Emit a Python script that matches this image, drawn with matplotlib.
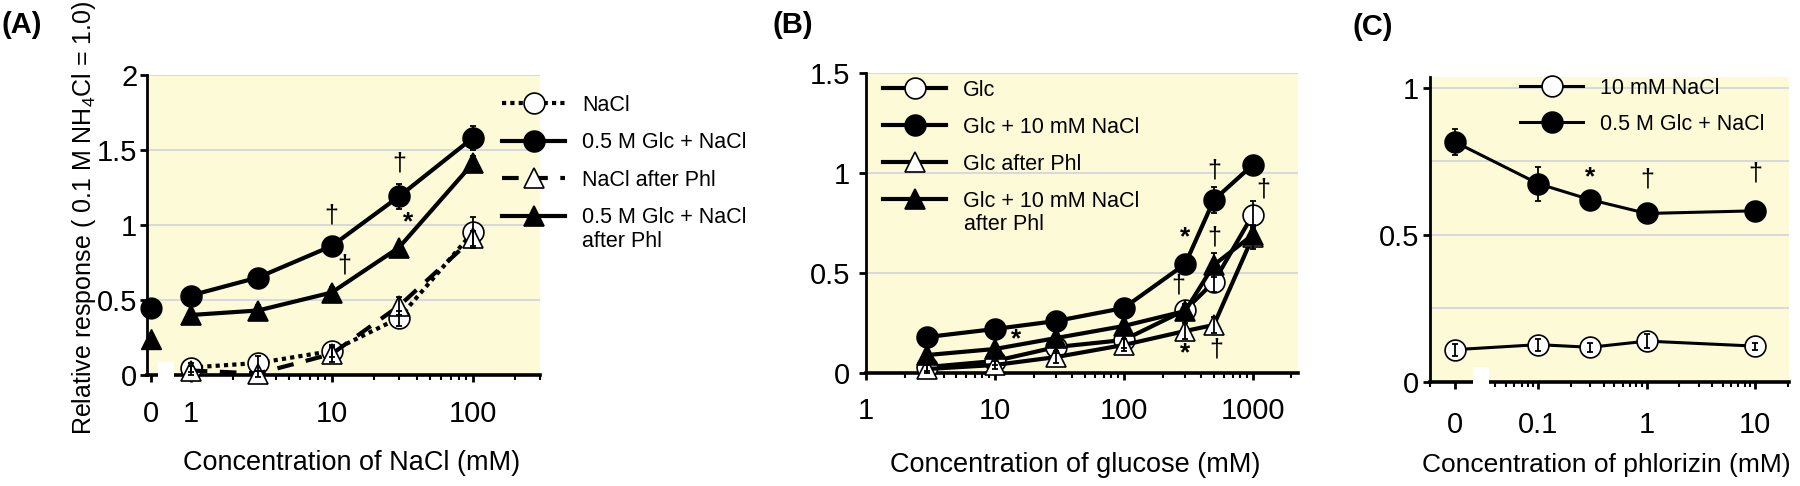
import numpy as np
import matplotlib.pyplot as plt
import matplotlib.transforms as mtransforms
from matplotlib.patches import Rectangle

plt.rcParams['font.family'] = ['Liberation Sans', 'DejaVu Sans']
plt.rcParams['mathtext.fontset'] = 'custom'
plt.rcParams['mathtext.rm'] = 'Liberation Sans'

BG = '#FDFBD7'
GRID = '#D9D9DD'
W, H = 1800, 486
LEG_FS = 15.5
MS = 15

# ---- (A) NaCl dose response ----
conc_a = [1, 3, 10, 30, 100]
nacl_a = [0.05, 0.08, 0.16, 0.38, 0.95]
nacl_a_err = [0.03, 0.05, 0.04, 0.05, 0.10]
nacl_phl_a = [0.03, 0.01, 0.14, 0.46, 0.91]
nacl_phl_a_err = [0.03, 0.02, 0.05, 0.06, 0.05]
glc_na_a = [0.53, 0.65, 0.86, 1.19, 1.58]
glc_na_a_err = [0.03, 0.05, 0.03, 0.08, 0.08]
glc_na_phl_a = [0.40, 0.43, 0.55, 0.85, 1.41]
glc_na_phl_a_err = [0.02, 0.04, 0.04, 0.03, 0.05]
glc_na_a_zero = 0.45
glc_na_phl_a_zero = 0.24
marks_a = [('†', 10, 1.06), ('†', 30, 1.41), ('*', 35, 1.02), ('†', 12.3, 0.73)]

# ---- (B) glucose dose response ----
conc_b = [3, 10, 30, 100, 300, 500, 1000]
glc_b = [0.03, 0.06, 0.13, 0.165, 0.315, 0.455, 0.79]
glc_b_err = [0.02, 0.02, 0.03, 0.04, 0.03, 0.05, 0.07]
glc_na_b = [0.18, 0.22, 0.26, 0.325, 0.545, 0.865, 1.04]
glc_na_b_err = [0.02, 0.02, 0.02, 0.02, 0.03, 0.065, 0.03]
glc_phl_b = [0.02, 0.04, 0.08, 0.14, 0.21, 0.24, 0.68]
glc_phl_b_err = [0.02, 0.02, 0.03, 0.03, 0.04, 0.04, 0.06]
glc_na_phl_b = [0.09, 0.12, 0.175, 0.235, 0.31, 0.54, 0.69]
glc_na_phl_b_err = [0.02, 0.02, 0.02, 0.02, 0.03, 0.06, 0.04]
marks_b = [('*', 300, 0.68), ('†', 500, 1.015), ('†', 1200, 0.915), ('†', 500, 0.68),
           ('†', 265, 0.44), ('*', 14.7, 0.17), ('*', 300, 0.10), ('†', 520, 0.115)]

# ---- (C) phlorizin ----
conc_c = [0, 0.1, 0.3, 1, 10]
nacl_c = [0.11, 0.127, 0.118, 0.139, 0.122]
nacl_c_err = [0.02, 0.02, 0.015, 0.025, 0.012]
glc_na_c = [0.816, 0.674, 0.62, 0.573, 0.582]
glc_na_c_err = [0.045, 0.057, 0.01, 0.01, 0.01]
marks_c = [('*', 0.3, 0.696), ('†', 1, 0.69), ('†', 10, 0.708)]

ZERO_A = 0.52     # where "0" sits on the log axis
ZERO_C = 0.017


def series(ax, x, y, err, marker, face, ls='-', lw=3.0, label=None):
    line, = ax.plot(x, y, ls=ls, lw=lw, color='black', marker=marker, ms=MS,
                    mfc=face, mec='black', mew=1.2, label=label, zorder=3, clip_on=False)
    ax.errorbar(x, y, yerr=err, fmt='none', ecolor='black', elinewidth=1.3,
                capsize=2.5, capthick=1.3, zorder=4, clip_on=False)
    return line


def style(ax, ymax, yticks, grid, xlim, majors, labels, minors, ypad, xpad):
    ax.set_facecolor(BG)
    for s in ('top', 'right'):
        ax.spines[s].set_visible(False)
    ax.spines['left'].set_linewidth(2.0)
    ax.spines['bottom'].set_linewidth(2.6)
    for g in grid:
        ax.axhline(g, color=GRID, lw=1.5, zorder=0)
    ax.set_ylim(0, ymax)
    ax.set_yticks(yticks, [f'{t:g}' for t in yticks])
    ax.set_xscale('log')
    ax.set_xlim(*xlim)
    ax.set_xticks(majors, labels)
    ax.set_xticks(minors, minor=True)
    ax.xaxis.set_minor_formatter(plt.NullFormatter())
    ax.tick_params(axis='both', which='major', labelsize=21, width=2, length=5)
    ax.tick_params(axis='x', which='minor', width=1.5, length=3.5)
    ax.tick_params(axis='y', pad=ypad)
    ax.tick_params(axis='x', which='major', pad=xpad)


def gap(ax, x0, x1, y0, y1):
    tr = mtransforms.blended_transform_factory(ax.transData, ax.transAxes)
    ax.add_patch(Rectangle((x0, y0), x1 - x0, y1 - y0, transform=tr, fc='white',
                           ec='none', clip_on=False, zorder=5))


def marks(ax, items):
    for s, x, y in items:
        if s == '*':
            ax.text(x, y, s, ha='center', va='center', fontsize=19, fontweight='bold')
        else:
            ax.text(x, y, s, ha='center', va='center', fontsize=18)


def legend(ax, handles, labels, left, top, spacing):
    ax.legend(handles, labels, loc='upper left', bbox_to_anchor=(left / W, 1 - top / H),
              bbox_transform=fig.transFigure, frameon=False, fontsize=LEG_FS,
              handlelength=2.93, handletextpad=0.79, labelspacing=spacing,
              borderpad=0, borderaxespad=0, numpoints=1)


fig = plt.figure(figsize=(W / 100, H / 100), dpi=100)

# ---------------- A ----------------
ax_a = fig.add_axes([147 / W, 1 - 375 / H, 393 / W, 300 / H])
dec = [2, 3, 4, 5, 6, 7, 8, 9]
style(ax_a, 2.0, [0, 0.5, 1, 1.5, 2], [0.5, 1, 1.5, 2], (0.49, 300),
      [ZERO_A, 1, 10, 100], ['0', '1', '10', '100'],
      dec + [d * 10 for d in dec] + [200, 300], 2, 13)
h1 = series(ax_a, conc_a, nacl_a, nacl_a_err, 'o', 'white', ls=(0, (1, 1)))
h3 = series(ax_a, conc_a, nacl_phl_a, nacl_phl_a_err, '^', 'white', ls=(0, (4, 3)))
h4 = series(ax_a, conc_a, glc_na_phl_a, glc_na_phl_a_err, '^', 'black')
h2 = series(ax_a, conc_a, glc_na_a, glc_na_a_err, 'o', 'black')
ax_a.plot([ZERO_A], [glc_na_a_zero], 'o', color='black', ms=MS, zorder=3, clip_on=False)
ax_a.plot([ZERO_A], [glc_na_phl_a_zero], '^', color='black', ms=MS, zorder=3, clip_on=False)
gap(ax_a, 0.586, 0.76, -0.03, 0.043)
marks(ax_a, marks_a)
ax_a.set_ylabel('Relative response ( 0.1 M NH$_4$Cl = 1.0)', fontsize=18)
ax_a.yaxis.set_label_coords(-0.160, 0.523)
ax_a.yaxis.label.set_va('center')
ax_a.set_xlabel('Concentration of NaCl (mM)', fontsize=19.5)
ax_a.xaxis.set_label_coords(0.52, -0.293)
ax_a.xaxis.label.set_va('center')
legend(ax_a, [h1, h2, h3, h4], ['NaCl', '0.5 M Glc + NaCl', 'NaCl after Phl', '0.5 M Glc + NaCl'],
       502, 95, 0.76)
fig.text(582 / W, 1 - 241 / H, 'after Phl', fontsize=LEG_FS, va='center')

# ---------------- B ----------------
ax_b = fig.add_axes([866 / W, 1 - 373 / H, 432 / W, 300 / H])
style(ax_b, 1.5, [0, 0.5, 1, 1.5], [0.5, 1, 1.5], (1, 2250),
      [1, 10, 100, 1000], ['1', '10', '100', '1000'],
      dec + [d * 10 for d in dec] + [d * 100 for d in dec] + [2000], 6.5, 12)
g1 = series(ax_b, conc_b, glc_b, glc_b_err, 'o', 'white')
g3 = series(ax_b, conc_b, glc_phl_b, glc_phl_b_err, '^', 'white')
g4 = series(ax_b, conc_b, glc_na_phl_b, glc_na_phl_b_err, '^', 'black')
g2 = series(ax_b, conc_b, glc_na_b, glc_na_b_err, 'o', 'black')
marks(ax_b, marks_b)
ax_b.set_xlabel('Concentration of glucose (mM)', fontsize=19.5)
ax_b.xaxis.set_label_coords(0.484, -0.307)
ax_b.xaxis.label.set_va('center')
legend(ax_b, [g1, g2, g3, g4], ['Glc', 'Glc + 10 mM NaCl', 'Glc after Phl', 'Glc + 10 mM NaCl'],
       883, 80, 0.74)
fig.text(964 / W, 1 - 224 / H, 'after Phl', fontsize=LEG_FS, va='center')

# ---------------- C ----------------
ax_c = fig.add_axes([1430 / W, 1 - 382 / H, 359 / W, 305 / H])
style(ax_c, 1.037, [0, 0.5, 1], [0.25, 0.5, 0.75, 1], (0.01, 20.5),
      [ZERO_C, 0.1, 1, 10], ['0', '0.1', '1', '10'],
      [0.01] + [d / 100 for d in dec[2:]] + [d / 10 for d in dec] + dec + [20], 3, 16)
x_c = [ZERO_C if c == 0 else c for c in conc_c]
c1 = series(ax_c, x_c, nacl_c, nacl_c_err, 'o', 'white', lw=2.2)
c2 = series(ax_c, x_c, glc_na_c, glc_na_c_err, 'o', 'black', lw=2.2)
gap(ax_c, 0.0249, 0.035, -0.01, 0.049)
marks(ax_c, marks_c)
ax_c.set_xlabel('Concentration of phlorizin (mM)', fontsize=19)
ax_c.xaxis.set_label_coords(0.49, -0.272)
ax_c.xaxis.label.set_va('center')
legend(ax_c, [c1, c2], ['10 mM NaCl', '0.5 M Glc + NaCl'], 1520, 78, 0.69)

for lab, x, y in [('(A)', 22, 25), ('(B)', 793, 25), ('(C)', 1373, 27)]:
    fig.text(x / W, 1 - y / H, lab, ha='center', va='center', fontsize=21, fontweight='bold')

fig.savefig('out.png', dpi=100)
